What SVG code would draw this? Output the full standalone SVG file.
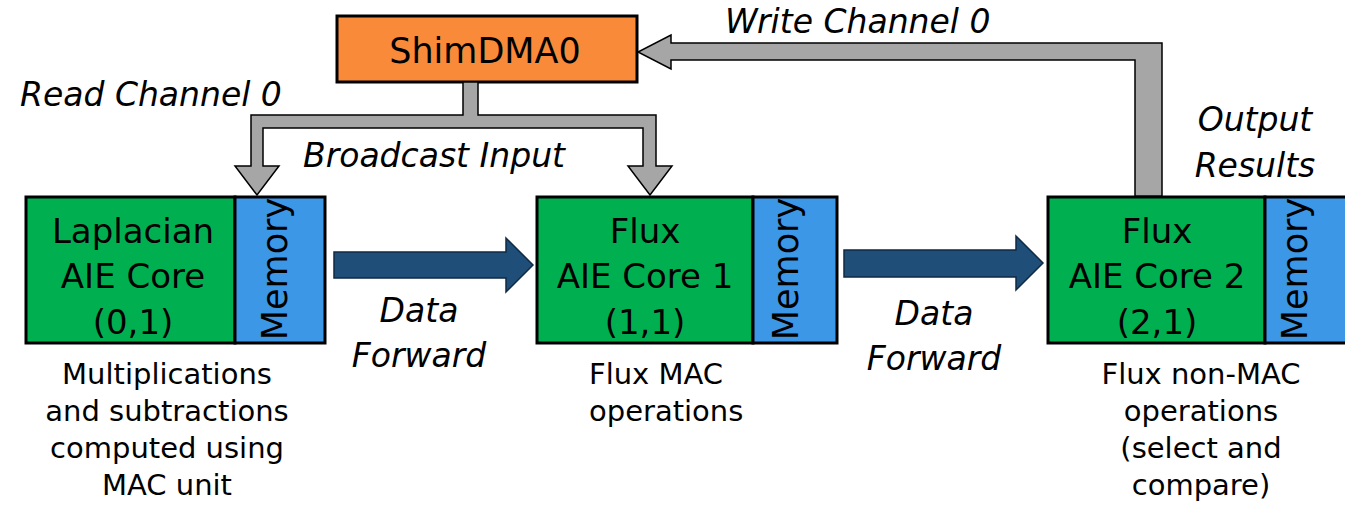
<svg xmlns="http://www.w3.org/2000/svg" width="1345" height="505" viewBox="0 0 1345 505">
  <style>
    text { font-family: "DejaVu Sans", "Liberation Sans", sans-serif; fill: #000; }
    .core { fill: #00B050; stroke: #000; stroke-width: 3; }
    .mem { fill: #3C97E6; stroke: #000; stroke-width: 3; }
    .shim { fill: #F98A3A; stroke: #000; stroke-width: 3; }
    .lbl { font-size: 34px; text-anchor: middle; }
    .memtxt { font-size: 35px; text-anchor: middle; }
    .desc { font-size: 29px; text-anchor: middle; }
    .ital { font-style: italic; font-size: 33px; }
    .bus { fill: #A6A6A6; stroke: #000; stroke-width: 1.5; stroke-linejoin: miter; }
    .fwd { fill: #1F4E79; stroke: #0E2A44; stroke-width: 1.5; }
  </style>

  <!-- DMA shim tile -->
  <g id="shimdma0">
    <rect class="shim" x="337" y="16" width="300" height="66"/>
    <text x="485" y="63" font-size="35" text-anchor="middle">ShimDMA0</text>
  </g>

  <!-- Compute tiles -->
  <g id="core-0-1">
    <rect class="core" x="26" y="197" width="209" height="146"/>
    <rect class="mem" x="235" y="197" width="90" height="146"/>
    <text class="lbl" x="133" y="243">Laplacian</text>
    <text class="lbl" x="133" y="287.5">AIE Core</text>
    <text class="lbl" x="133" y="333.5">(0,1)</text>
    <text class="memtxt" transform="translate(287 269) rotate(-90)">Memory</text>
    <text class="desc" x="167" y="384">Multiplications</text>
    <text class="desc" x="167" y="421">and subtractions</text>
    <text class="desc" x="167" y="458">computed using</text>
    <text class="desc" x="167" y="495">MAC unit</text>
  </g>

  <g id="core-1-1">
    <rect class="core" x="537" y="197" width="216" height="146"/>
    <rect class="mem" x="753" y="197" width="84" height="146"/>
    <text class="lbl" x="645" y="243">Flux</text>
    <text class="lbl" x="645" y="287.5">AIE Core 1</text>
    <text class="lbl" x="645" y="333.5">(1,1)</text>
    <text class="memtxt" transform="translate(798 269) rotate(-90)">Memory</text>
    <text font-size="29" x="589" y="384">Flux MAC</text>
    <text font-size="29" x="589" y="421">operations</text>
  </g>

  <g id="core-2-1">
    <rect class="core" x="1048" y="197" width="217" height="146"/>
    <rect class="mem" x="1265" y="197" width="90" height="146"/>
    <text class="lbl" x="1157" y="243">Flux</text>
    <text class="lbl" x="1157" y="287.5">AIE Core 2</text>
    <text class="lbl" x="1157" y="333.5">(2,1)</text>
    <text class="memtxt" transform="translate(1307 269) rotate(-90)">Memory</text>
    <text class="desc" x="1201" y="384">Flux non-MAC</text>
    <text class="desc" x="1201" y="421">operations</text>
    <text class="desc" x="1201" y="458">(select and</text>
    <text class="desc" x="1201" y="495">compare)</text>
  </g>

  <!-- Connectors -->
  <g id="connectors">
    <!-- broadcast bus from the shim to cores (0,1) and (1,1) -->
    <polygon class="bus" points="463,82 463,115 251,115 251,166 235,166 257,195 279,166 263,166 263,128 643,128 643,166 628,166 650,195 672,166 656,166 656,115 478,115 478,82"/>
    <!-- result path from core (2,1) back to the shim -->
    <polygon class="bus" points="1135,196 1135,60 671,60 671,69 638,52 671,35 671,43 1162,43 1162,196"/>
    <!-- core-to-core forwarding -->
    <polygon class="fwd" points="334,252 506,252 506,238 533,265 506,292 506,278 334,278"/>
    <polygon class="fwd" points="844,250 1016,250 1016,236 1043,263 1016,290 1016,277 844,277"/>

    <text class="ital" x="20" y="106" font-size="32.5">Read Channel 0</text>
    <text class="ital" x="303" y="167" font-size="32.5">Broadcast Input</text>
    <text class="ital" x="725" y="33" font-size="34">Write Channel 0</text>
    <text class="ital" x="1255" y="131" text-anchor="middle">Output</text>
    <text class="ital" x="1255" y="177" text-anchor="middle">Results</text>
    <text class="ital" x="419" y="322" text-anchor="middle" font-size="34">Data</text>
    <text class="ital" x="419" y="367" text-anchor="middle" font-size="34">Forward</text>
    <text class="ital" x="934" y="325" text-anchor="middle" font-size="34">Data</text>
    <text class="ital" x="934" y="370" text-anchor="middle" font-size="34">Forward</text>
  </g>
</svg>
